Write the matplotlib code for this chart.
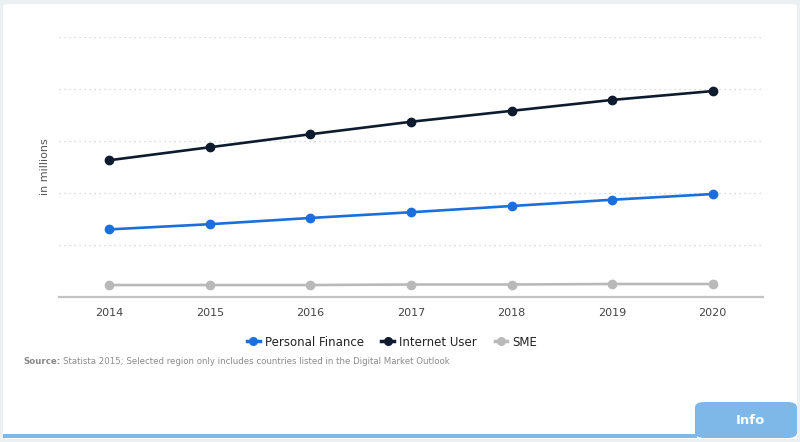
import matplotlib
matplotlib.use('Agg')
import matplotlib.pyplot as plt
from matplotlib.patches import FancyBboxPatch, Rectangle
from matplotlib.lines import Line2D

# 数据（纵轴无刻度值，按网格读取的估计值）
years = [2014, 2015, 2016, 2017, 2018, 2019, 2020]
personal_finance = [130, 140, 152, 163, 175, 187, 198]
internet_user = [263, 288, 313, 337, 358, 379, 396]
sme = [23, 23, 23, 24, 24, 25, 25]

series_names = ['Personal Finance', 'Internet User', 'SME']
series_colors = ['#1b6fdc', '#0e1b2f', '#b9b9b9']

W, H = 800, 442
fig = plt.figure(figsize=(W / 100, H / 100), dpi=100)
fig.patch.set_facecolor('#edf0f3')

# 白色卡片背景
card = FancyBboxPatch((3 / W, 3 / H), 794 / W, 435 / H,
                      boxstyle='round,pad=0,rounding_size=0.006',
                      transform=fig.transFigure, facecolor='white',
                      edgecolor='none', zorder=-3)
fig.patches.append(card)
# 底部蓝条和 Info 标签
fig.patches.append(Rectangle((3 / W, 4 / H), 694 / W, 4 / H,
                             transform=fig.transFigure, facecolor='#7db8e8',
                             edgecolor='none', zorder=-2))
tab = FancyBboxPatch((695 / W, 4 / H), 102 / W, 36 / H,
                     boxstyle='round,pad=0,rounding_size=0.012',
                     transform=fig.transFigure, facecolor='#7db8e8',
                     edgecolor='none', zorder=-2)
fig.patches.append(tab)
fig.text(750 / W, 22 / H, 'Info', color='white', fontsize=9.5,
         fontweight='bold', ha='center', va='center')

# 主坐标轴
ax = fig.add_axes([59 / W, (H - 297) / H, 704 / W, 260 / H])
ax.set_facecolor('none')

data = [personal_finance, internet_user, sme]
for vals, name, c in zip(data, series_names, series_colors):
    ax.plot(years, vals, color=c, lw=1.9, marker='o', ms=6,
            label=name, clip_on=False, zorder=3)

ax.set_xlim(2013.5, 2020.5)
ax.set_ylim(0, 500)
ax.set_yticks([100, 200, 300, 400, 500])
ax.set_yticklabels([])
ax.tick_params(axis='y', length=0)
ax.grid(axis='y', color='#cdd1d5', linestyle=(0, (1, 3)), lw=0.9)
ax.set_xticks(years)
ax.set_xticklabels([str(y) for y in years], fontsize=8, color='#444444')
ax.tick_params(axis='x', length=0, pad=8)

for s in ['top', 'right', 'left']:
    ax.spines[s].set_visible(False)
ax.spines['bottom'].set_color('#c4c4c4')
ax.spines['bottom'].set_linewidth(1.6)

ax.set_ylabel('in millions', fontsize=8, color='#555555', labelpad=3)

# 图例
handles = [Line2D([0], [0], color=c, lw=2.5, marker='o', ms=5.5)
           for c in series_colors]
fig.legend(handles, series_names, loc='center', ncol=3,
           bbox_to_anchor=(392 / W, (H - 342) / H), frameon=False,
           fontsize=8.5, handlelength=1.1, handletextpad=0.4,
           columnspacing=1.5, labelcolor='#222222')

# 来源说明
src_y = (H - 361) / H
t1 = fig.text(23 / W, src_y, 'Source:', fontsize=6.2,
              fontweight='bold', color='#888888', va='center')
fig.canvas.draw()
x_end = t1.get_window_extent().x1 / W
fig.text(x_end + 3 / W, src_y,
         'Statista 2015; Selected region only includes countries listed in the Digital Market Outlook',
         fontsize=6.2, color='#8a8a8a', va='center')

fig.savefig('out.png', dpi=100, facecolor=fig.get_facecolor())
